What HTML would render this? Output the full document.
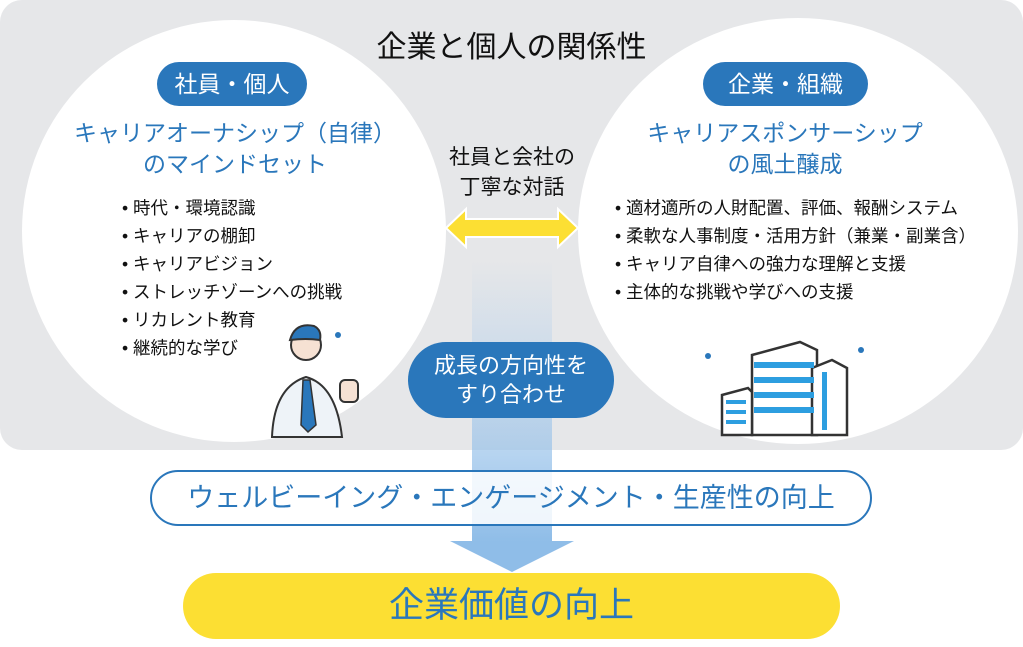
<!DOCTYPE html>
<html><head><meta charset="utf-8"><style>
body{margin:0;width:1023px;height:647px;background:#fff;position:relative;overflow:hidden;font-family:"Liberation Sans","Noto Sans CJK JP",sans-serif}
.a{position:absolute}
.bg{left:0;top:0;width:1023px;height:450px;background:#e6e7e9;border-radius:22px}
.c{background:#fff;border-radius:50%}
.tag{background:#2a77bb;color:#fff;border-radius:22px;text-align:center;font-size:23px;line-height:44px}
.h{color:#2a77bb;font-size:23px;line-height:31px;text-align:center}
ul{margin:0;padding:0;list-style:none;font-size:17.5px;line-height:28px;color:#111;white-space:nowrap}
ul li:before{content:"• ";}
</style></head><body>
<div class="a bg"></div>
<div class="a c" style="left:22px;top:20px;width:424px;height:422px"></div>
<div class="a c" style="left:578px;top:18px;width:440px;height:426px"></div>
<div class="a" style="left:0;top:22px;width:1023px;text-align:center;font-size:30px;color:#111">企業と個人の関係性</div>
<div class="a tag" style="left:157px;top:62px;width:150px">社員・個人</div>
<div class="a tag" style="left:703px;top:62px;width:165px">企業・組織</div>
<div class="a h" style="left:50px;top:118px;width:370px">キャリアオーナシップ（自律）<br>のマインドセット</div>
<div class="a h" style="left:600px;top:118px;width:370px">キャリアスポンサーシップ<br>の風土醸成</div>
<ul class="a" style="left:122px;top:194px"><li>時代・環境認識</li><li>キャリアの棚卸</li><li>キャリアビジョン</li><li>ストレッチゾーンへの挑戦</li><li>リカレント教育</li><li>継続的な学び</li></ul>
<ul class="a" style="left:615px;top:194px"><li>適材適所の人財配置、評価、報酬システム</li><li>柔軟な人事制度・活用方針（兼業・副業含）</li><li>キャリア自律への強力な理解と支援</li><li>主体的な挑戦や学びへの支援</li></ul>
<div class="a" style="left:430px;top:143px;width:164px;text-align:center;font-size:21px;line-height:30px;color:#111">社員と会社の<br>丁寧な対話</div>
<svg class="a" style="left:0;top:0" width="1023" height="647">
<defs><linearGradient id="g" x1="0" y1="0" x2="0" y2="1"><stop offset="0" stop-color="#a3c8ec" stop-opacity="0"/><stop offset="1" stop-color="#8fbde8"/></linearGradient></defs>
<rect x="472" y="260" width="80" height="282" fill="url(#g)"/>
<polygon points="450,541 574,541 512,572" fill="#8fbde8"/>
<polygon points="446,228 466,209 466,219 558,219 558,209 578,228 558,247 558,237 466,237 466,247" fill="#fcdf33" stroke="#fff" stroke-width="2"/>
<g stroke="#333" stroke-width="2.5" fill="#fff">
<polygon points="752,355 800,342 817,350 817,435 752,435"/>
<polygon points="812,368 832,360 847,368 847,435 812,435"/>
<polygon points="722,395 748,388 752,392 752,435 722,435"/>
</g>
<g fill="#2d9ee0"><rect x="754" y="362" width="60" height="6"/><rect x="754" y="377" width="60" height="6"/><rect x="754" y="392" width="60" height="6"/><rect x="754" y="407" width="60" height="6"/><rect x="822" y="372" width="5" height="58"/><rect x="726" y="400" width="20" height="4"/><rect x="726" y="410" width="20" height="4"/><rect x="726" y="420" width="20" height="4"/></g>
<g fill="#2a77bb"><circle cx="708" cy="356" r="3"/><circle cx="861" cy="350" r="3"/><circle cx="338" cy="335" r="3"/></g>
<circle cx="306" cy="345" r="15" fill="#f6e1d3" stroke="#333" stroke-width="2"/>
<path d="M290 340 q5-18 24-14 q8 4 6 14 q-14-2-30 0z" fill="#2a77bb" stroke="#333" stroke-width="2"/>
<path d="M272 437 q2-50 34-60 q30 8 36 60z" fill="#eef3f8" stroke="#333" stroke-width="2"/>
<polygon points="303,380 310,380 316,425 308,432 301,425" fill="#2a77bb" stroke="#333" stroke-width="1.5"/>
<rect x="340" y="380" width="18" height="22" rx="5" fill="#f6e1d3" stroke="#333" stroke-width="2"/>
</svg>
<div class="a" style="left:408px;top:342px;width:206px;height:76px;background:#2a77bb;border-radius:38px;color:#fff;text-align:center;font-size:22px;line-height:29px;padding-top:9px;box-sizing:border-box">成長の方向性を<br>すり合わせ</div>
<div class="a" style="left:150px;top:470px;width:722px;height:56px;border:2px solid #2a77bb;border-radius:30px;background:rgba(255,255,255,0.85);box-sizing:border-box;text-align:center;color:#2a77bb;font-size:27px;line-height:52px">ウェルビーイング・エンゲージメント・生産性の向上</div>
<div class="a" style="left:183px;top:573px;width:657px;height:66px;background:#fcdf33;border-radius:33px;text-align:center;color:#2a77bb;font-size:35px;line-height:66px">企業価値の向上</div>
</body></html>
